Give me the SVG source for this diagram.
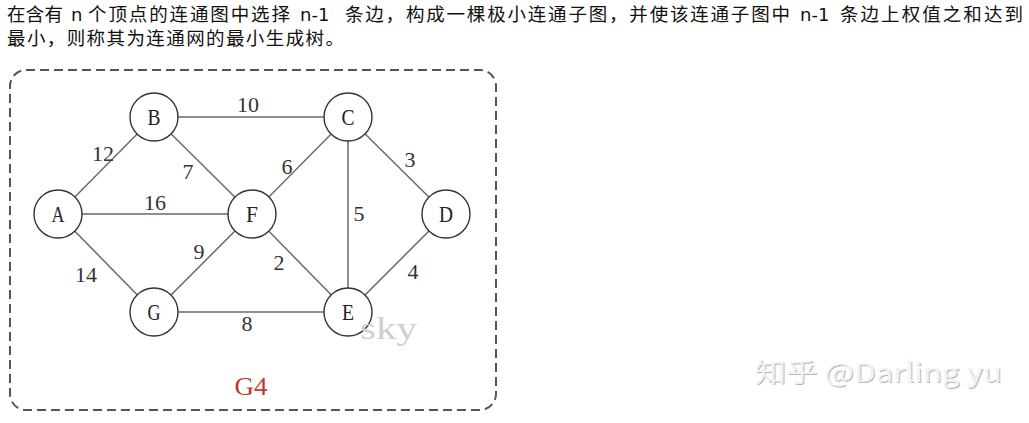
<svg xmlns="http://www.w3.org/2000/svg" width="1029" height="423" viewBox="0 0 1029 423">
<style>
.cjk{font-family:"Noto Sans CJK SC","Noto Sans",sans-serif;font-size:18.5px;fill:#111}
.lat{font-family:"DejaVu Sans","Noto Sans",sans-serif;font-size:18px;fill:#111}
.edge{stroke:#6a6a6a;stroke-width:1.5;fill:none}
.node circle{fill:#fff;stroke:#333;stroke-width:1.4}
.node text{font-family:"Liberation Serif",serif;font-size:24px;fill:#222;text-anchor:middle}
.w{font-family:"Liberation Serif",serif;font-size:22px;fill:#333;text-anchor:middle}
.wm{font-family:"Noto Sans CJK SC","Noto Sans",sans-serif;font-size:26px}
</style>
<rect width="1029" height="423" fill="#fff"/>
<g id="caption">
<text class="cjk" x="7" y="21" textLength="56" lengthAdjust="spacing">在含有</text>
<text class="lat" x="71" y="21">n</text>
<text class="cjk" x="88" y="21" textLength="202" lengthAdjust="spacing">个顶点的连通图中选择</text>
<text class="lat" x="300" y="21">n-1</text>
<text class="cjk" x="345" y="21" textLength="445" lengthAdjust="spacing">条边，构成一棵极小连通子图，并使该连通子图中</text>
<text class="lat" x="800" y="21">n-1</text>
<text class="cjk" x="840" y="21" textLength="183" lengthAdjust="spacing">条边上权值之和达到</text>
<text class="cjk" x="7" y="45" textLength="337" lengthAdjust="spacing">最小，则称其为连通网的最小生成树。</text>
</g>
<rect id="frame" x="10" y="70" width="486" height="340" rx="16" ry="16" fill="none" stroke="#555" stroke-width="2" stroke-dasharray="9 5"/>
<g id="connectors">
<line class="edge" x1="58" y1="214" x2="154" y2="117"/>
<line class="edge" x1="58" y1="214" x2="252" y2="214"/>
<line class="edge" x1="58" y1="214" x2="154" y2="312"/>
<line class="edge" x1="154" y1="117" x2="348" y2="117"/>
<line class="edge" x1="154" y1="117" x2="252" y2="214"/>
<line class="edge" x1="348" y1="117" x2="252" y2="214"/>
<line class="edge" x1="348" y1="117" x2="348" y2="312"/>
<line class="edge" x1="348" y1="117" x2="446" y2="214"/>
<line class="edge" x1="252" y1="214" x2="154" y2="312"/>
<line class="edge" x1="252" y1="214" x2="348" y2="312"/>
<line class="edge" x1="154" y1="312" x2="348" y2="312"/>
<line class="edge" x1="348" y1="312" x2="446" y2="214"/>
</g>
<g id="weights">
<text class="w" x="248" y="112">10</text>
<text class="w" x="103" y="161">12</text>
<text class="w" x="188" y="179">7</text>
<text class="w" x="287" y="174">6</text>
<text class="w" x="410" y="167">3</text>
<text class="w" x="155" y="210">16</text>
<text class="w" x="359" y="221">5</text>
<text class="w" x="199" y="259">9</text>
<text class="w" x="279" y="270">2</text>
<text class="w" x="86" y="282">14</text>
<text class="w" x="413" y="279">4</text>
<text class="w" x="247" y="331">8</text>
</g>
<g id="node-A" class="node"><circle cx="58" cy="214" r="24"/><text x="58" y="222" textLength="13" lengthAdjust="spacingAndGlyphs">A</text></g>
<g id="node-B" class="node"><circle cx="154" cy="117" r="24"/><text x="154" y="125" textLength="13" lengthAdjust="spacingAndGlyphs">B</text></g>
<g id="node-C" class="node"><circle cx="348" cy="117" r="24"/><text x="348" y="125" textLength="13" lengthAdjust="spacingAndGlyphs">C</text></g>
<g id="node-D" class="node"><circle cx="446" cy="214" r="24"/><text x="446" y="222" textLength="14" lengthAdjust="spacingAndGlyphs">D</text></g>
<g id="node-F" class="node"><circle cx="252" cy="214" r="24"/><text x="252" y="222" textLength="12" lengthAdjust="spacingAndGlyphs">F</text></g>
<g id="node-G" class="node"><circle cx="154" cy="312" r="24"/><text x="154" y="320" textLength="13" lengthAdjust="spacingAndGlyphs">G</text></g>
<g id="node-E" class="node"><circle cx="348" cy="312" r="24"/><text x="348" y="320" textLength="12" lengthAdjust="spacingAndGlyphs">E</text></g>
<text id="sky" x="360" y="339" font-family="Liberation Serif, serif" font-size="32" fill="#cfcfcf" textLength="57" lengthAdjust="spacingAndGlyphs">sky</text>
<text id="title" x="251" y="395" font-family="Liberation Serif, serif" font-size="26" fill="#c0392b" text-anchor="middle" textLength="33" lengthAdjust="spacingAndGlyphs">G4</text>
<g id="watermark">
<text class="wm" x="756" y="383" fill="#b8b8b8" textLength="247" lengthAdjust="spacingAndGlyphs">知乎 @Darling yu</text>
<text class="wm" x="755" y="382" fill="#f2f2f2" textLength="247" lengthAdjust="spacingAndGlyphs">知乎 @Darling yu</text>
</g>
</svg>
